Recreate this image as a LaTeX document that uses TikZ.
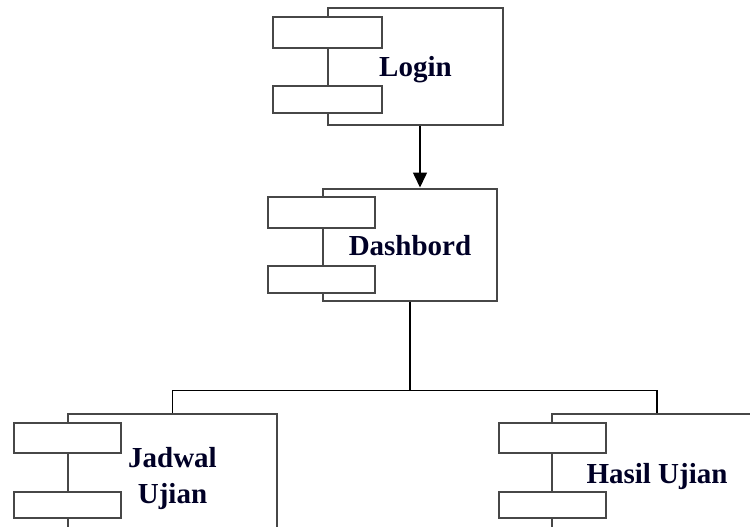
\documentclass[tikz,border=0pt]{standalone}
\usepackage{fontspec}
\setmainfont{Liberation Serif}
\usetikzlibrary{arrows.meta,calc}
\newcommand{\lowerby}[2]{\raisebox{-#1}[\height][\depth]{#2}}
\begin{document}
\begin{tikzpicture}[x=1pt,y=-1pt,
  comp/.style={draw=black!72,line width=2pt,fill=white,inner sep=0pt,
    font=\fontsize{29}{36}\selectfont\bfseries,text=black!85!blue,align=center},
  port/.style={draw=black!72,line width=2pt,fill=white,inner sep=0pt},
  conn/.style={draw=black,line width=1.6pt}]
\useasboundingbox (0,0) rectangle (750,527);
\clip (0,0) rectangle (750,527);
% Login
\node[comp,minimum width=175pt,minimum height=117pt] (login) at (415.5,66.5) {\lowerby{3pt}{Login}};
\node[port,minimum width=109pt,minimum height=31pt] (lp1) at (327.5,32.5) {};
\node[port,minimum width=109pt,minimum height=27pt] (lp2) at (327.5,99.5) {};
% Dashbord
\node[comp,minimum width=174pt,minimum height=112pt] (dash) at (410,244.5) {\lowerby{1pt}{Dashbord}};
\node[port,minimum width=107pt,minimum height=31pt] (dp1) at (321.5,212.5) {};
\node[port,minimum width=107pt,minimum height=27pt] (dp2) at (321.5,279.5) {};
% Jadwal Ujian
\node[comp,minimum width=209pt,minimum height=120pt] (jad) at (172.5,474) {\lowerby{4pt}{\begin{tabular}{@{}c@{}}Jadwal\\Ujian\end{tabular}}};
\node[port,minimum width=107pt,minimum height=30pt] (jp1) at (67.5,438) {};
\node[port,minimum width=107pt,minimum height=26pt] (jp2) at (67.5,505) {};
% Hasil Ujian
\node[comp,minimum width=210pt,minimum height=120pt] (has) at (657,474) {\lowerby{3pt}{Hasil Ujian}};
\node[port,minimum width=107pt,minimum height=30pt] (hp1) at (552.5,438) {};
\node[port,minimum width=107pt,minimum height=26pt] (hp2) at (552.5,505) {};
% connectors
\draw[conn,-{Triangle[length=15pt,width=14pt]}] ([xshift=4.5pt]login.south) -- ([xshift=4.5pt]login.south |- dash.north);
\coordinate (junc) at ($(dash.south)+(0,89)$);
\draw[conn] (dash.south) -- (junc);
\draw[conn] (jad.north) |- (junc) -| (has.north);
\end{tikzpicture}
\end{document}
